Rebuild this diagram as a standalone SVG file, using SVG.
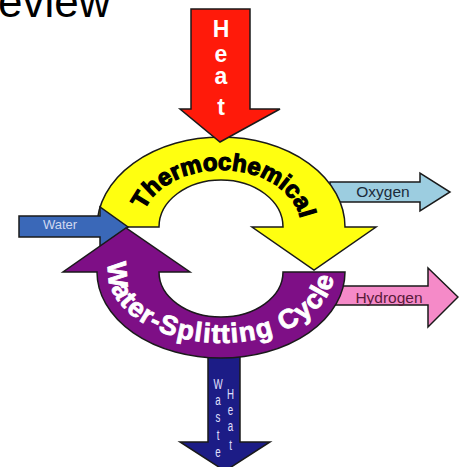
<svg xmlns="http://www.w3.org/2000/svg" width="459" height="467" viewBox="0 0 459 467">
<style>
.edge{stroke:#1a1a1a;stroke-width:1.5;stroke-linejoin:miter}
.lbl{font-family:"Liberation Sans",Arial,sans-serif}
.big{font-family:"Liberation Sans",Arial,sans-serif;font-weight:bold}
</style>
<defs>
<path id="thermoPath" d="M141,227 A80,57 0 0 1 301,227"/>
<path id="waterPath" d="M111.8,253.6 A113,71 0 1 0 330.2,253.6"/>
</defs>
<rect width="459" height="467" fill="#ffffff"/>
<text class="lbl" x="-2" y="17" font-size="44" fill="#000">eview</text>
<g id="connectors">
<g id="oxygen">
<path class="edge" d="M330,182 L420,182 L420,173 L450,192 L420,211 L420,202 L330,202 Z" fill="#9ccde0"/>
<text class="lbl" x="383" y="197" font-size="15.5" text-anchor="middle" fill="#1a2a3a">Oxygen</text>
</g>
<g id="hydrogen">
<path class="edge" d="M335,286 L428,286 L428,268 L458,297 L428,327 L428,305 L335,305 Z" fill="#f58ac8"/>
<text class="lbl" x="389" y="303" font-size="15.5" text-anchor="middle" fill="#5a1a3a">Hydrogen</text>
</g>
<g id="wasteheat">
<path class="edge" d="M208,350 L240,350 L240,442 L270,442 L225,471 L180,442 L208,442 Z" fill="#1c1c86"/>
<g fill="#e0e0ff" class="lbl" font-size="15" text-anchor="middle">
<g transform="translate(218,0) scale(0.65,1)">
<text x="0" y="389">W</text><text x="0" y="405">a</text><text x="0" y="422">s</text><text x="0" y="440">t</text><text x="0" y="457">e</text>
</g>
<g transform="translate(230.5,0) scale(0.65,1)">
<text x="0" y="399">H</text><text x="0" y="415">e</text><text x="0" y="431">a</text><text x="0" y="450">t</text>
</g>
</g>
</g>
</g>
<g id="thermochemical">
<path class="edge" d="M97,227 A124,90 0 0 1 345,227 L376,227 L314,270 L252,227 L283,227 A62,47 0 0 0 159,227 Z" fill="#ffff10"/>
<text class="big" font-size="24" fill="#000" stroke="#000" stroke-width="1.2"><textPath href="#thermoPath" startOffset="52%" text-anchor="middle">Thermochemical</textPath></text>
</g>
<g id="water">
<path class="edge" d="M19,216 L100,216 L100,207 L128,227 L100,247 L100,237 L19,237 Z" fill="#3a68b8"/>
<text class="lbl" x="60" y="229" font-size="13" text-anchor="middle" fill="#d0d8f0">Water</text>
</g>
<g id="cycle">
<path class="edge" d="M97,272 L63,272 L126,228 L190,272 L159,272 A62,45 0 0 0 283,272 L345,272 A124,86 0 0 1 97,272 Z" fill="#7e0f86"/>
<text class="big" font-size="27" fill="#fff" stroke="#fff" stroke-width="0.8" letter-spacing="1.3"><textPath href="#waterPath" startOffset="48%" text-anchor="middle">Water-Splitting Cycle</textPath></text>
</g>
<g id="heat">
<path class="edge" d="M191,9 L250,9 L250,109 L280,109 L220,142 L180,109 L191,109 Z" fill="#ff1a0a"/>
<g class="big" font-size="23" fill="#fff" text-anchor="middle">
<text x="221" y="37">H</text><text x="221" y="62">e</text><text x="221" y="84">a</text><text x="221" y="115">t</text>
</g>
</g>
</svg>
